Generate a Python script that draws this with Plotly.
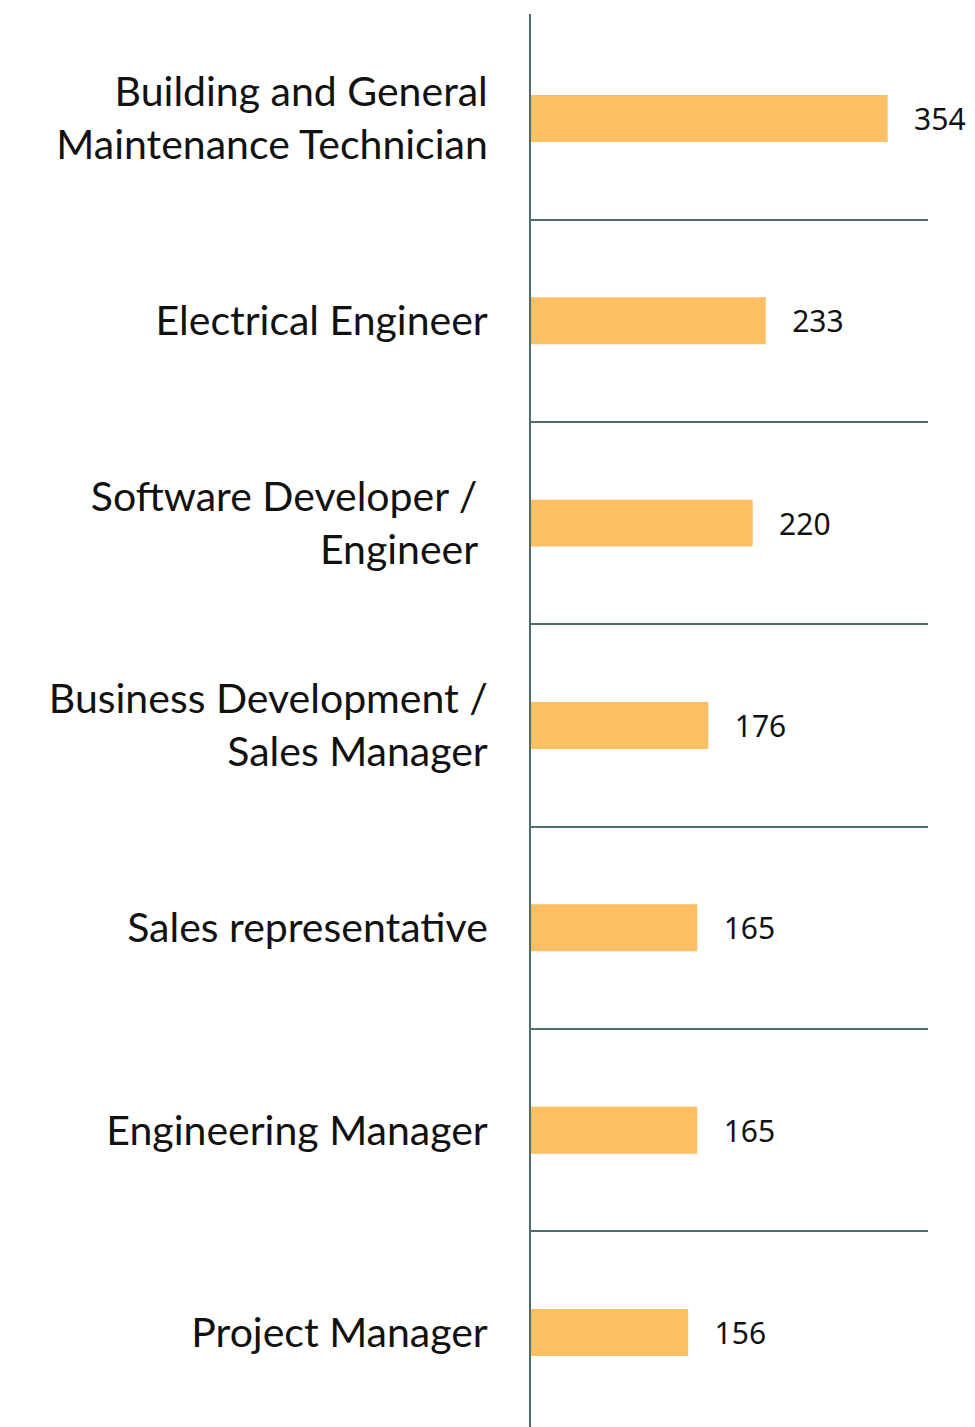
import plotly.graph_objects as go

# job titles (top to bottom) and counts
roles = [
    "Building and General<br>Maintenance Technician",
    "Electrical Engineer",
    "Software Developer /\u00a0<br>Engineer\u00a0",
    "Business Development /<br>Sales Manager",
    "Sales representative",
    "Engineering Manager",
    "Project Manager",
]
counts = [354, 233, 220, 176, 165, 165, 156]

positions = list(range(len(roles)))
line_color = "#4F6D6D"

fig = go.Figure()

fig.add_trace(go.Bar(
    x=counts,
    y=positions,
    orientation="h",
    width=0.232,
    marker=dict(color="#FDBF63", line=dict(width=0)),
    text=[f"\u00a0\u00a0\u00a0{c}" for c in counts],
    textposition="outside",
    cliponaxis=False,
    textfont=dict(family="Noto Sans, Open Sans, sans-serif", size=30, color="#111111"),
    hoverinfo="skip",
))

# page body adds an 8px offset, so the figure is sized to end at the window edge
fig.update_layout(
    width=967,
    height=1419,
    margin=dict(l=523, r=47, t=6, b=0),
    paper_bgcolor="white",
    plot_bgcolor="white",
    showlegend=False,
    xaxis=dict(range=[0, 394], visible=False, fixedrange=True),
    yaxis=dict(
        range=[6.467, -0.516],
        tickmode="array",
        tickvals=positions,
        ticktext=roles,
        tickfont=dict(family="Lato, Noto Sans, sans-serif", size=41, color="#111111"),
        ticklabelstandoff=33,
        showgrid=False,
        zeroline=False,
        showline=True,
        linecolor=line_color,
        linewidth=2,
        ticks="",
        automargin=False,
        minor=dict(
            tickmode="array",
            tickvals=[p + 0.5 for p in positions[:-1]],
            showgrid=True,
            gridcolor=line_color,
            gridwidth=2,
            ticks="",
        ),
    ),
)

fig.write_html("out.html")
